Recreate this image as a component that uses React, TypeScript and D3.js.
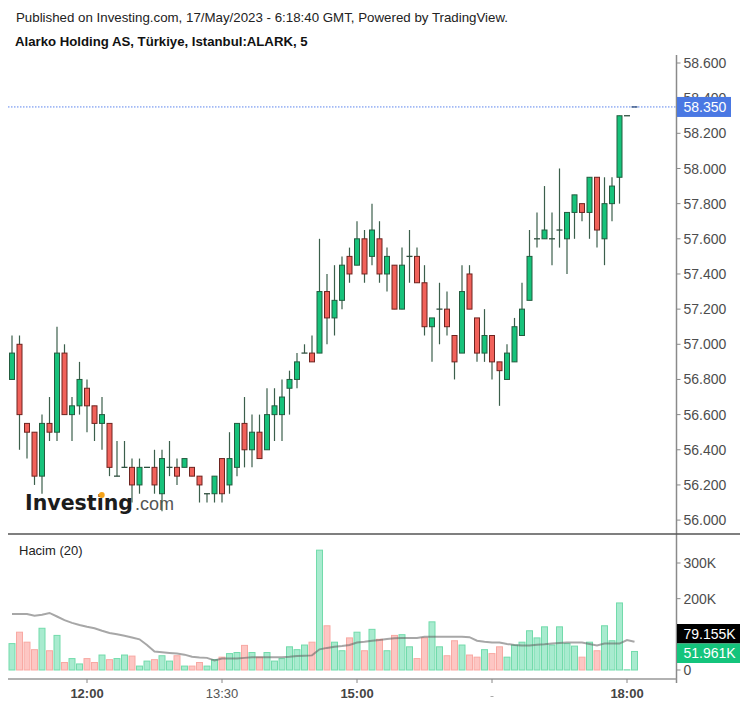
import React from "react";
import * as d3 from "d3";

// ---- DATA ----
const timeLabels = [
  { idx: 10, label: "12:00", bold: true },
  { idx: 28, label: "13:30", bold: false },
  { idx: 46, label: "15:00", bold: true },
  { idx: 64, label: "", bold: false },
  { idx: 82, label: "18:00", bold: true },
];

const opens = [56.80,57.00,56.55,56.50,56.25,56.55,56.50,56.95,56.60,56.65,56.75,56.65,56.55,56.55,56.25,56.30,56.30,56.20,56.30,56.30,56.15,56.30,56.30,56.30,56.30,56.25,56.15,56.15,56.35,56.20,56.30,56.55,56.40,56.50,56.40,56.60,56.60,56.75,56.80,56.95,56.95,56.95,57.30,57.15,57.25,57.50,57.45,57.60,57.50,57.60,57.40,57.45,57.20,57.50,57.50,57.35,57.10,57.20,57.20,57.05,56.95,57.40,57.15,56.95,57.05,56.90,56.80,56.90,57.05,57.25,57.60,57.60,57.60,57.65,57.60,57.75,57.80,57.75,57.95,57.60,57.80,57.95,58.30,58.35];
const highs = [57.05,57.05,56.55,56.50,56.60,56.70,57.10,57.00,56.70,56.90,56.80,56.65,56.70,56.55,56.45,56.45,56.35,56.35,56.30,56.40,56.40,56.45,56.35,56.35,56.30,56.25,56.15,56.25,56.35,56.50,56.55,56.70,56.60,56.60,56.75,56.75,56.80,56.85,56.95,57.00,57.05,57.60,57.40,57.45,57.50,57.55,57.70,57.65,57.80,57.70,57.55,57.45,57.55,57.65,57.55,57.45,57.15,57.35,57.30,57.05,57.45,57.45,57.15,57.20,57.05,56.90,57.00,57.15,57.35,57.65,57.75,57.90,57.75,58.00,57.75,57.85,57.80,57.95,57.95,57.95,57.95,58.30,58.30,58.35];
const lows = [56.80,56.40,56.35,56.20,56.15,56.45,56.45,56.60,56.45,56.60,56.50,56.45,56.40,56.25,56.25,56.30,56.10,56.15,56.30,56.15,56.05,56.25,56.20,56.30,56.25,56.10,56.10,56.10,56.10,56.15,56.25,56.30,56.30,56.35,56.40,56.45,56.45,56.60,56.75,56.95,56.90,56.95,57.00,57.05,57.20,57.35,57.45,57.35,57.45,57.35,57.30,57.20,57.20,57.35,57.35,57.05,56.90,57.00,57.05,56.80,56.95,57.20,56.90,56.90,56.80,56.65,56.80,56.90,57.05,57.25,57.55,57.60,57.45,57.55,57.40,57.60,57.70,57.60,57.55,57.45,57.70,57.80,58.30,58.35];
const closes = [56.95,56.60,56.50,56.25,56.55,56.50,56.95,56.60,56.65,56.80,56.65,56.55,56.60,56.30,56.25,56.30,56.20,56.30,56.30,56.20,56.35,56.30,56.25,56.35,56.25,56.20,56.15,56.25,56.15,56.35,56.55,56.40,56.50,56.35,56.60,56.65,56.70,56.80,56.90,56.95,56.90,57.30,57.15,57.25,57.45,57.40,57.60,57.40,57.65,57.40,57.50,57.20,57.45,57.50,57.35,57.10,57.15,57.20,57.10,56.90,57.30,57.20,56.95,57.05,56.90,56.85,56.95,57.10,57.20,57.50,57.60,57.65,57.60,57.65,57.75,57.85,57.75,57.95,57.65,57.80,57.90,58.30,58.30,58.35];
// volume in thousands
const volumes = [74,106,78,57,117,54,97,21,32,17,32,21,42,29,32,42,39,11,25,29,40,25,40,11,11,21,11,29,36,46,49,69,49,36,49,25,32,65,57,70,78,336,124,78,54,90,106,54,114,86,54,97,99,65,32,90,135,65,40,82,70,42,36,57,46,65,36,70,78,110,90,121,70,121,74,67,36,78,54,124,82,188,0.5,51.961];
// 20-period volume average (thousands)
const volumeMA = [157,157,157,152,155,160,150,140,132,126,121,117,110,104,100,96,91,86,70,52,50,48,46,43,37,35,34,27,32,32,32,34,36,36,36,36,36,37,39,40,41,58,62,65,67,70,77,79,82,84,87,89,90,90,90,93,93,93,93,93,93,92,82,79,77,77,73,70,69,69,71,72,74,76,77,77,77,73,69,74,74,74,84,79.155];

const priceTicks = [58.6,58.4,58.2,58.0,57.8,57.6,57.4,57.2,57.0,56.8,56.6,56.4,56.2,56.0];
const volumeTicks = [0,100,200,300];
const volumeTickLabels = ["0", "", "200K", "300K"];
const lastPrice = 58.35;
const lastVolumeMA = 79.155;
const lastVolume = 51.961;

const FONT = "'Liberation Sans', Arial, sans-serif";

export default function App() {
  const W = 747, H = 707;
  const axisX = 676.5;
  const n = closes.length;
  const x = d3.scaleLinear().domain([0, n - 1]).range([12, 634.5]);
  const y = d3.scaleLinear().domain([56.0, 58.6]).range([520.1, 63]);
  const yv = d3.scaleLinear().domain([0, 300]).range([670, 563]);

  const bodyW = 5;
  const volW = 6;

  const maLine = d3.line<number>().x((_, i) => x(i)).y((d) => yv(d));

  const up = (i: number) => closes[i] >= opens[i];

  return (
    <svg width={W} height={H} style={{ position: "absolute", left: 0, top: 0, background: "#fff" }} fontFamily={FONT}>
      <defs>
        <clipPath id="lbl58400">
          <rect x={677} y={85} width={60} height={12} />
        </clipPath>
      </defs>
      <rect x={0} y={0} width={W} height={H} fill="#fff" />
      {/* Header */}
      <text x={16} y={21.5} fontSize={13.3} fill="#222">
        Published on Investing.com, 17/May/2023 - 6:18:40 GMT, Powered by TradingView.
      </text>
      <text x={15} y={45.5} fontSize={13.2} fontWeight="bold" fill="#111">
        Alarko Holding AS, Türkiye, Istanbul:ALARK, 5
      </text>

      {/* Logo */}
      <text x={25} y={510} fontFamily="'DejaVu Sans', sans-serif" fontWeight="bold" fontSize={21.5} fill="#1c1c1c" textLength={108} lengthAdjust="spacingAndGlyphs">
        Investing
      </text>
      <circle cx={101.8} cy={495} r={2.9} fill="#f5a31a" />
      <text x={135} y={510} fontSize={18} fill="#555">.com</text>

      {/* last price dotted line */}
      <line x1={8} x2={axisX} y1={y(lastPrice)} y2={y(lastPrice)} stroke="#5b84ee" strokeWidth={1} strokeDasharray="1.5,1.5" />

      {/* Candles */}
      {closes.map((c, i) => {
        const o = opens[i];
        const isUp = up(i);
        const top = y(Math.max(o, c));
        const bot = y(Math.min(o, c));
        const cx = x(i);
        const doji = Math.abs(bot - top) < 1;
        return (
          <g key={i}>
            <line x1={cx} x2={cx} y1={y(highs[i])} y2={y(lows[i])} stroke="#3b5f4b" strokeWidth={1.2} />
            {doji ? (
              <line x1={cx - bodyW / 2 - 0.5} x2={cx + bodyW / 2 + 0.5} y1={top} y2={top} stroke={i === n - 1 ? "#2a4a7a" : "#2f4f3f"} strokeWidth={1.3} />
            ) : (
              <rect x={cx - bodyW / 2} y={top} width={bodyW} height={bot - top}
                fill={isUp ? "#17c27b" : "#f1615a"} stroke={isUp ? "#235c3f" : "#6e2420"} strokeWidth={1} />
            )}
          </g>
        );
      })}

      {/* Price axis */}
      <line x1={axisX} x2={axisX} y1={55} y2={683} stroke="#8a8a8a" strokeWidth={1.5} />
      {priceTicks.map((t) => (
        <g key={t}>
          <line x1={axisX} x2={axisX + 4} y1={y(t)} y2={y(t)} stroke="#8a8a8a" strokeWidth={1} />
          <text x={683.5} y={y(t)} dy="0.36em" fontSize={14} fill="#4d4d4d"
            clipPath={Math.abs(t - 58.4) < 1e-6 ? "url(#lbl58400)" : undefined}>{t.toFixed(3)}</text>
        </g>
      ))}
      <rect x={677} y={y(lastPrice) - 10} width={54} height={20} fill="#4a78e3" />
      <text x={683.5} y={y(lastPrice)} dy="0.36em" fontSize={14} fill="#fff">{lastPrice.toFixed(3)}</text>

      {/* pane separator */}
      <line x1={8} x2={740} y1={534} y2={534} stroke="#555" strokeWidth={1.5} />

      {/* Volume pane */}
      <text x={19} y={555} fontSize={13} fill="#222">Hacim (20)</text>
      {volumes.map((v, i) => {
        const isUp = up(i);
        return (
          <rect key={i} x={x(i) - volW / 2} y={yv(v)} width={volW} height={yv(0) - yv(v)}
            fill={isUp ? "#a8ebcf" : "#fdc6c3"} stroke={isUp ? "#72dbab" : "#f8a9a3"} strokeWidth={1} />
        );
      })}
      <path d={maLine(volumeMA) || ""} fill="none" stroke="rgba(95,95,95,0.55)" strokeWidth={2} />

      {volumeTicks.map((t, k) => (
        <g key={t}>
          <line x1={axisX} x2={axisX + 4} y1={yv(t)} y2={yv(t)} stroke="#8a8a8a" strokeWidth={1} />
          {volumeTickLabels[k] ? (
            <text x={683.5} y={yv(t)} dy="0.36em" fontSize={14} fill="#4d4d4d">{volumeTickLabels[k]}</text>
          ) : null}
        </g>
      ))}
      <rect x={677} y={624} width={63} height={19.5} fill="#000" />
      <text x={683.5} y={633.7} dy="0.36em" fontSize={14} fill="#fff">{lastVolumeMA.toFixed(3)}K</text>
      <rect x={677} y={643.5} width={63} height={19.5} fill="#14c47c" />
      <text x={683.5} y={653.2} dy="0.36em" fontSize={14} fill="#fff">{lastVolume.toFixed(3)}K</text>

      {/* Time axis */}
      <line x1={8} x2={axisX} y1={679} y2={679} stroke="#999" strokeWidth={1.5} />
      {timeLabels.map((t) => (
        <g key={t.idx}>
          <line x1={x(t.idx)} x2={x(t.idx)} y1={679} y2={683} stroke="#888" strokeWidth={1} />
          {t.label ? (
            <text x={x(t.idx)} y={697.5} textAnchor="middle" fontSize={13} fontWeight={t.bold ? "bold" : "normal"} fill={t.bold ? "#444" : "#555"}>
              {t.label}
            </text>
          ) : (
            <rect x={x(t.idx) - 1.5} y={696} width={3} height={1} fill="#aaa" />
          )}
        </g>
      ))}
    </svg>
  );
}
